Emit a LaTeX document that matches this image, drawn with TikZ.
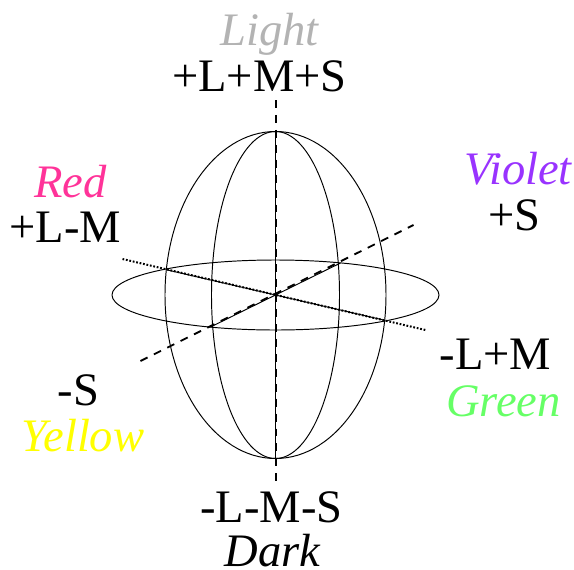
\documentclass[tikz,border=0pt]{standalone}
\usepackage{fontspec}
\setmainfont{Liberation Serif}
\usetikzlibrary{positioning}
\definecolor{lightlab}{HTML}{B3B3B3}
\definecolor{redlab}{HTML}{FF3399}
\definecolor{violetlab}{HTML}{9933FF}
\definecolor{greenlab}{HTML}{66FF66}
\definecolor{yellowlab}{HTML}{FFFF00}
\begin{document}
\begin{tikzpicture}[x=0.02cm, y=0.02cm]

\tikzset{
    wire/.style={line width=0.55pt, black},
    dashaxis/.style={line width=1.05pt, dash pattern=on 4.5pt off 4pt},
    dotaxis/.style={line width=1.15pt, dash pattern=on 1pt off 1pt},
    opp/.style={font=\fontsize{26.5}{30}\selectfont, inner sep=0pt, anchor=base},
    hue/.style={font=\fontsize{26.5}{30}\selectfont\itshape, inner sep=0pt, anchor=base}
}

\useasboundingbox (-275.5,-274) rectangle (298.5,295);

%====================================================
% SPHERE
%====================================================
\draw[wire] (0,0) ellipse (110.5 and 163.5);
\draw[wire] (0,0) ellipse (64 and 163.5);
\draw[wire] (0,0) ellipse (163.5 and 35);

%====================================================
% AXES
%====================================================
\coordinate (lighttip) at (0.5,195);
\coordinate (darktip) at (0.5,-191);
\coordinate (redtip) at (-153,36);
\coordinate (greentip) at (150,-35);
\coordinate (violettip) at (138,70);
\coordinate (yellowtip) at (-135,-66);

% solid inside the sphere
\coordinate (toppole) at (0,163.5);
\coordinate (botpole) at (0,-163.5);
\coordinate (redhit) at (-108,25);
\coordinate (greenhit) at (108,-25);
\coordinate (violethit) at (65,32);
\coordinate (yellowhit) at (-65,-32);

\draw[wire] (toppole) -- (botpole);
\draw[wire] (redhit) -- (greenhit);
\draw[wire] (yellowhit) -- (violethit);

\draw[dashaxis] (lighttip) -- (darktip);
\draw[dotaxis] (redtip) -- (greentip);
\draw[dashaxis] (yellowtip) -- (violettip);

%====================================================
% LABELS
%====================================================
\node[hue, text=lightlab] (light) at (-6,250) {Light};
\node[opp] (lms) at (-16,204) {+L+M+S};

\node[hue, text=redlab] (red) at (-205,98) {Red};
\node[opp] (lm) at (-210,53) {+L-M};

\node[hue, text=violetlab] (violet) at (242.5,111) {Violet};
\node[opp] (s) at (239,65) {+S};

\node[opp] (ml) at (220,-74) {-L+M};
\node[hue, text=greenlab] (green) at (228,-121) {Green};

\node[opp] (ns) at (-197,-110) {-S};
\node[hue, text=yellowlab] (yellow) at (-192.5,-156) {Yellow};

\node[opp] (nlms) at (-4,-227) {-L-M-S};
\node[hue, text=black] (dark) at (-3,-271.5) {Dark};

\end{tikzpicture}
\end{document}
